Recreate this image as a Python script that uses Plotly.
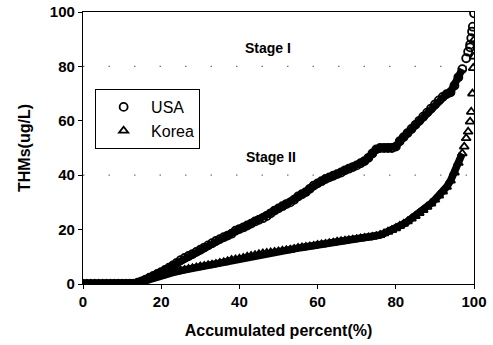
import plotly.graph_objects as go

# ---- data ----
usa_x = list(range(0, 99)) + [98.5, 99, 99, 99.3, 99.5, 99.7, 100]
usa_y = [0]*14 + [
    0.5, 1, 1.6, 2.3, 3, 3.7, 4.4, 5.2, 6, 6.8,          # 14-23
    7.8, 8.8, 9.6, 10.3, 11, 11.8, 12.6, 13.4, 14.2, 15,  # 24-33
    15.8, 16.5, 17.2, 17.8, 18.5, 19.6, 20.2, 20.8, 21.5, 22.2,  # 34-43
    23, 23.6, 24.2, 25, 26, 27, 27.8, 28.6, 29.4, 30,     # 44-53
    31, 32.2, 33, 33.8, 35, 36.2, 37, 37.8, 38.6, 39.2,   # 54-63
    39.8, 40.4, 41, 41.8, 42.4, 43, 43.6, 44.4, 45.2, 46.4,  # 64-73
    48, 49.5, 50, 50, 50, 50, 50.5, 52.5, 54, 55.5,       # 74-83
    57, 58.5, 60, 61.5, 63, 64.5, 66, 67.5, 68.8, 69.8,   # 84-93
    70.5, 73, 76, 79, 83,                                 # 94-98
    85.4, 87, 88, 90.4, 92.8, 94.6, 99.5,                 # 98.5-100
]

korea_x = list(range(0, 98)) + [97.5, 98, 98.5, 99, 99.3, 99.6, 99.8, 100, 100]
korea_y = [0]*14 + [
    0.3, 0.8, 1.3, 1.8, 2.3, 2.8, 3.2, 3.6, 4, 4.3,       # 14-23
    4.6, 4.9, 5.2, 5.5, 5.8, 6.1, 6.4, 6.6, 6.9, 7.1,     # 24-33
    7.4, 7.7, 8, 8.4, 8.8, 9, 9.3, 9.6, 10, 10.3,         # 34-43
    10.6, 10.9, 11.2, 11.4, 11.6, 11.8, 12, 12.2, 12.4, 12.6,  # 44-53
    12.9, 13.2, 13.4, 13.6, 13.8, 14, 14.3, 14.5, 14.7, 15,    # 54-63
    15.2, 15.5, 15.7, 15.9, 16.1, 16.3, 16.5, 16.7, 16.9, 17.1,  # 64-73
    17.3, 17.6, 18, 18.6, 19.2, 19.8, 20.5, 21.3, 22.1, 23,    # 74-83
    24, 25, 26.1, 27.2, 28.4, 29.6, 31, 32.5, 34, 35.7,        # 84-93
    38, 41, 44.5, 48,                                          # 94-97
    50.5, 53.6, 56, 59.7, 63.3, 70, 79.4, 83.6, 89.7,          # 97.5-100
]

x_ticks = [0, 20, 40, 60, 80, 100]
y_ticks = [0, 20, 40, 60, 80, 100]
grid_y = [40, 80]
stage_labels = ["Stage I", "Stage II"]
stage_x = [47.3, 48]
stage_y = [86.8, 46.7]
BAND_LIMIT = 97  # the dense part of each curve reads as a solid band

FONT = "Liberation Sans, Arial, sans-serif"

fig = go.Figure()
for xs, ys in [(usa_x, usa_y), (korea_x, korea_y)]:
    bx = [a for a in xs if a <= BAND_LIMIT]
    by = [b for a, b in zip(xs, ys) if a <= BAND_LIMIT]
    fig.add_trace(go.Scatter(x=bx, y=by, mode="lines", showlegend=False, hoverinfo="skip",
                             line=dict(color="black", width=7.5)))

fig.add_trace(go.Scatter(
    x=usa_x, y=usa_y, mode="markers", name="USA",
    marker=dict(symbol="circle-open", size=8, color="black", line=dict(width=1.8, color="black")),
))
fig.add_trace(go.Scatter(
    x=korea_x, y=korea_y, mode="markers", name="Korea",
    marker=dict(symbol="triangle-up-open", size=8, color="black", line=dict(width=1.8, color="black")),
))

for gy in grid_y:
    fig.add_shape(type="line", xref="paper", yref="y", x0=0, x1=1, y0=gy, y1=gy,
                  line=dict(color="#777", width=1.2, dash="1.5px,24px"), layer="below")

for t, sx, sy in zip(stage_labels, stage_x, stage_y):
    fig.add_annotation(x=sx, y=sy, text="<b>" + t + "</b>", showarrow=False,
                       font=dict(family=FONT, size=14, color="black"))

fig.update_layout(
    width=493, height=345,
    margin=dict(l=83, r=19, t=12, b=61),
    paper_bgcolor="white", plot_bgcolor="white",
    font=dict(family=FONT, size=15, color="black"),
    showlegend=True,
    legend=dict(
        x=0.031, y=0.717, xanchor="left", yanchor="top",
        bordercolor="black", borderwidth=1, bgcolor="white",
        font=dict(family=FONT, size=16, color="black"),
        itemwidth=45, tracegroupgap=0,
    ),
    xaxis=dict(
        range=[0, 100], tickvals=x_ticks, showgrid=False, zeroline=False, automargin=False,
        showline=True, linecolor="black", linewidth=1.2, mirror=True,
        ticks="outside", ticklen=4, tickcolor="black",
        tickfont=dict(family=FONT, size=15, color="black", weight="bold"),
        title=dict(text="<b>Accumulated percent(%)</b>", font=dict(family=FONT, size=16)),
    ),
    yaxis=dict(
        range=[0, 100], tickvals=y_ticks, showgrid=False, zeroline=False, automargin=False,
        showline=True, linecolor="black", linewidth=1.2, mirror=True,
        ticks="outside", ticklen=4, tickcolor="black",
        tickfont=dict(family=FONT, size=15, color="black", weight="bold"),
        title=dict(text="<b>THMs(ug/L)</b>", font=dict(family=FONT, size=16)),
    ),
)

fig.write_html("out.html", config={"displayModeBar": False},
               post_script="document.body.style.margin='0';")
